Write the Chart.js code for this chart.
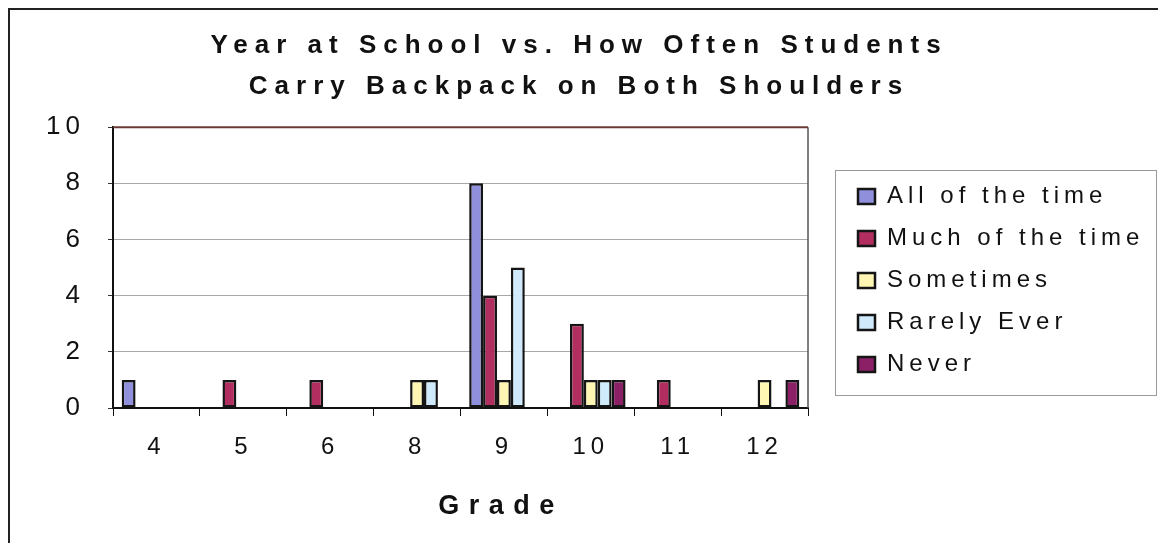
<!DOCTYPE html>
<html>
<head>
<meta charset="utf-8">
<script src="https://cdn.jsdelivr.net/npm/chart.js@4.4.1/dist/chart.umd.min.js"></script>
<style>
  html, body { margin: 0; padding: 0; background: #fff; }
  #wrap { width: 1158px; height: 543px; position: relative; }
</style>
</head>
<body>
<div id="wrap"><canvas id="backpackChart"></canvas></div>
<script>
const grades = ['4', '5', '6', '8', '9', '10', '11', '12'];
const allOfTheTime = [1, 0, 0, 0, 8, 0, 0, 0];
const muchOfTheTime = [0, 1, 1, 0, 4, 3, 1, 0];
const sometimes = [0, 0, 0, 1, 1, 1, 0, 1];
const rarelyEver = [0, 0, 0, 1, 5, 1, 0, 0];
const never = [0, 0, 0, 0, 0, 1, 0, 1];
const yTicks = [0, 2, 4, 6, 8, 10];
const titleLines = ['Year at School vs. How Often Students', 'Carry Backpack on Both Shoulders'];
const xTitle = 'Grade';

const FONT = "'Liberation Sans', Arial, sans-serif";

// the old excel export has very loose letter spacing, do it per block
const spacing = {
  id: 'spacing',
  afterInit(chart) {
    const lg = chart.legend;
    const fitLegend = lg.fit.bind(lg);
    lg.fit = function () { fitLegend(); this.width = 350; };
    const drawLegend = lg.draw.bind(lg);
    lg.draw = function () {
      chart.ctx.save();
      chart.ctx.letterSpacing = '5px';
      drawLegend();
      chart.ctx.restore();
    };
    const tb = chart.titleBlock;
    const drawTitle = tb.draw.bind(tb);
    tb.draw = function () {
      chart.ctx.save();
      chart.ctx.letterSpacing = '7px';
      drawTitle();
      chart.ctx.restore();
    };
  },
  beforeUpdate(chart) { chart.ctx.letterSpacing = '5px'; },
  afterLayout(chart) {
    const lg = chart.legend;
    lg.left += 32;
    lg.top += 9;
    lg.bottom += 9;
  },
  beforeDraw(chart) { chart.ctx.letterSpacing = '5px'; }
};

const frame = {
  id: 'frame',
  afterDraw(chart) {
    const ctx = chart.ctx;
    const a = chart.chartArea;
    ctx.save();
    // outer frame
    ctx.strokeStyle = '#222';
    ctx.lineWidth = 2;
    ctx.beginPath();
    ctx.moveTo(9, 543);
    ctx.lineTo(9, 9);
    ctx.lineTo(1158, 9);
    ctx.stroke();
    // plot border top / right
    ctx.strokeStyle = '#6b3a36';
    ctx.lineWidth = 2;
    ctx.beginPath();
    ctx.moveTo(a.left, a.top);
    ctx.lineTo(a.right, a.top);
    ctx.stroke();
    ctx.strokeStyle = '#555';
    ctx.lineWidth = 1.5;
    ctx.beginPath();
    ctx.moveTo(a.right, a.top);
    ctx.lineTo(a.right, a.bottom);
    ctx.stroke();
    // legend box
    ctx.strokeStyle = '#999';
    ctx.lineWidth = 1;
    ctx.strokeRect(835.5, 170.5, 321, 225);
    // x axis title
    ctx.fillStyle = '#111';
    ctx.font = 'bold 27px ' + FONT;
    ctx.letterSpacing = '9.5px';
    ctx.textAlign = 'center';
    ctx.textBaseline = 'middle';
    ctx.fillText(xTitle, 501, 507);
    ctx.restore();
  }
};

const mkSet = (label, data, color) => ({
  label: label,
  data: data,
  backgroundColor: color,
  borderColor: '#151515',
  borderWidth: 2.5,
  borderSkipped: false,
  categoryPercentage: 0.8,
  barPercentage: 1.0
});

new Chart(document.getElementById('backpackChart'), {
  type: 'bar',
  data: {
    labels: grades,
    datasets: [
      mkSet('All of the time', allOfTheTime, '#8f8fdc'),
      mkSet('Much of the time', muchOfTheTime, '#b22e60'),
      mkSet('Sometimes', sometimes, '#fff6b4'),
      mkSet('Rarely Ever', rarelyEver, '#cfeafa'),
      mkSet('Never', never, '#8c2067')
    ]
  },
  options: {
    responsive: true,
    maintainAspectRatio: false,
    animation: false,
    layout: { padding: 0 },
    plugins: {
      title: {
        display: true,
        text: titleLines,
        color: '#111',
        font: { family: FONT, size: 26, weight: 'bold', lineHeight: 1.58 },
        padding: { top: 25, bottom: 20 }
      },
      legend: {
        position: 'right',
        labels: {
          color: '#111',
          font: { family: FONT, size: 24 },
          boxWidth: 17,
          boxHeight: 15,
          padding: 18
        }
      },
      tooltip: { enabled: false }
    },
    scales: {
      x: {
        afterFit(s) { s.height = 135; },
        grid: {
          offset: true,
          drawOnChartArea: false,
          drawTicks: true,
          tickLength: 8,
          tickColor: '#111'
        },
        border: { color: '#111', width: 2 },
        ticks: {
          color: '#111',
          font: { family: FONT, size: 24 },
          padding: 17
        }
      },
      y: {
        min: 0,
        max: 10,
        afterFit(s) { s.width = 113; },
        afterBuildTicks(s) { s.ticks = yTicks.map(v => ({ value: v })); },
        grid: {
          color: '#a8a8a8',
          tickLength: 5,
          tickColor: '#333'
        },
        border: { color: '#111', width: 2 },
        ticks: {
          color: '#111',
          font: { family: FONT, size: 26 },
          padding: 23
        }
      }
    }
  },
  plugins: [spacing, frame]
});
</script>
</body>
</html>
